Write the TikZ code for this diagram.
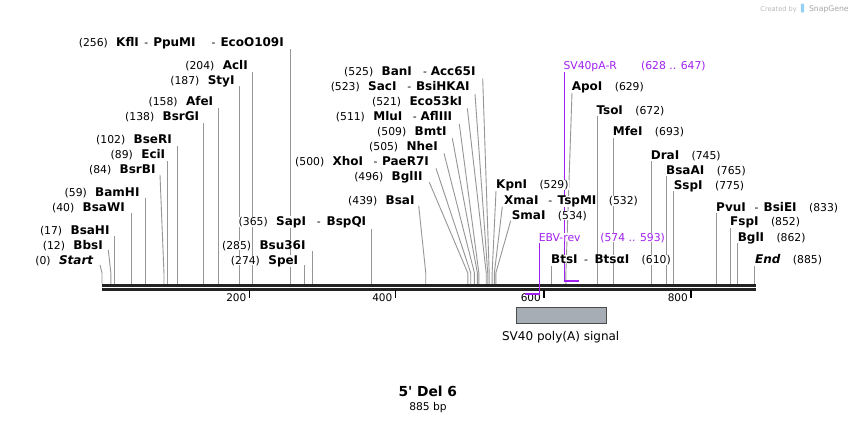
\documentclass[tikz,border=0pt]{standalone}
\usepackage{fontspec}
\setmainfont{DejaVu Sans}[Ligatures=TeXOff]
\definecolor{primer}{RGB}{160,32,240}
\definecolor{sitegray}{RGB}{150,150,150}
\definecolor{mapblack}{RGB}{35,35,35}
\definecolor{featfill}{RGB}{166,173,180}
\definecolor{featdraw}{RGB}{75,75,75}
\definecolor{wmgray}{RGB}{185,185,185}
\definecolor{wmblue}{RGB}{150,208,245}
\pgfdeclarelayer{bg}
\pgfsetlayers{bg,main}
\newcommand\Dash[2]{\hspace{#1pt}{\mdseries\fontsize{10.8}{12}\selectfont -}\hspace{#2pt}}
\tikzset{
  nm/.style={inner sep=0pt, fill=white, font=\fontsize{12}{14}\selectfont\bfseries},
  nb/.style={inner sep=0pt, fill=white, font=\fontsize{10.8}{13}\selectfont},
  pl/.style={inner sep=0pt, fill=white, text=primer, font=\fontsize{10.8}{13}\selectfont},
  siteline/.style={draw=sitegray, line width=0.9pt},
  primerline/.style={draw=primer, line width=1.2pt},
  primerbar/.style={draw=primer, line width=2pt},
  mapline/.style={draw=mapblack},
  tickline/.style={draw=black, line width=1.5pt},
}
\newcommand\LSite[7]{%
  \node[nm,anchor=base east] (n#1) at (#4+0.7,#5) {#3};
  \node[nb,anchor=base east] (b#1) at ([xshift=-8pt]n#1.base west) {(#2)};
  \coordinate (t#1) at ({#6},#7);
  \coordinate (k#1) at ({xs(#2)},273);
  \coordinate (m#1) at ({xs(#2)},284);
  \begin{pgfonlayer}{bg}\draw[siteline] (t#1) -- (k#1) -- (m#1);\end{pgfonlayer}
}
\newcommand\RSite[7]{%
  \node[nm,anchor=base west] (n#1) at (#4-0.7,#5) {#3};
  \node[nb,anchor=base west] (b#1) at ([xshift=12pt]n#1.base east) {(#2)};
  \coordinate (t#1) at ({#6},#7);
  \coordinate (k#1) at ({xs(#2)},273);
  \coordinate (m#1) at ({xs(#2)},284);
  \begin{pgfonlayer}{bg}\draw[siteline] (t#1) -- (k#1) -- (m#1);\end{pgfonlayer}
}
\begin{document}
\begin{tikzpicture}[x=1pt,y=-1pt,declare function={xs(\s)=102+0.7375*\s;}]
\begin{pgfonlayer}{bg}
\fill[white] (0,0) rectangle (858,423);
\end{pgfonlayer}
\useasboundingbox (0,0) rectangle (858,423);

% watermark
\node[inner sep=0pt, anchor=base west, text=wmgray, font=\fontsize{6.6}{8}\selectfont] (wmc) at (760.2,11) {Created by};
\node[fill=wmblue, inner sep=0pt, minimum width=3.2pt, minimum height=9pt, rounded corners=1pt] (wml) at (802.5,8) {};
\node[inner sep=0pt, anchor=base west, text=wmgray!90!black, font=\fontsize{7.7}{9}\selectfont] (wms) at (808.8,11) {SnapGene};

% left-labelled sites
\LSite{256}{256}{KflI\Dash{5.5}{5}PpuMI\Dash{16}{5}EcoO109I}{283.3}{46}{xs(256)}{49}
\LSite{204}{204}{AclI}{247.3}{69.3}{xs(204)}{71.7}
\LSite{187}{187}{StyI}{234}{84.3}{xs(187)}{86}
\LSite{158}{158}{AfeI}{212.7}{105.7}{xs(158)}{108}
\LSite{138}{138}{BsrGI}{198.7}{120.7}{xs(138)}{123}
\LSite{102}{102}{BseRI}{171.3}{143.3}{xs(102)}{146}
\LSite{89}{89}{EciI}{164.7}{158.3}{xs(89)}{161}
\LSite{84}{84}{BsrBI}{155}{173.3}{160}{175}
\LSite{59}{59}{BamHI}{139}{196}{xs(59)}{198.3}
\LSite{40}{40}{BsaWI}{124.3}{211}{xs(40)}{213}
\LSite{17}{17}{BsaHI}{109}{234}{xs(17)}{236}
\LSite{12}{12}{BbsI}{102.3}{249}{108.3}{250}
\LSite{0}{0}{\itshape Start}{92.7}{264}{100}{265}
\LSite{365}{365}{SapI\Dash{10.8}{6}BspQI}{365.7}{225.3}{xs(365)}{229}
\LSite{285}{285}{Bsu36I}{305}{249}{xs(285)}{250.7}
\LSite{274}{274}{SpeI}{297.7}{264}{xs(274)}{265}
\LSite{525}{525}{BanI\Dash{11.2}{3.8}Acc65I}{475}{75.7}{482.7}{78.3}
\LSite{523}{523}{SacI\Dash{10.8}{4.8}BsiHKAI}{469}{90.7}{475}{94}
\LSite{521}{521}{Eco53kI}{461.7}{105.7}{467.3}{108.3}
\LSite{511}{511}{MluI\Dash{10.5}{3.8}AflIII}{451.7}{120.7}{459.3}{124}
\LSite{509}{509}{BmtI}{446}{135.7}{452.3}{138.3}
\LSite{505}{505}{NheI}{437.3}{150.7}{444}{153.3}
\LSite{500}{500}{XhoI\Dash{10.5}{4.5}PaeR7I}{428.3}{165.7}{436}{168.3}
\LSite{496}{496}{BglII}{422}{180.7}{429.3}{182.3}
\LSite{439}{439}{BsaI}{414}{204}{418.7}{205.7}

% right-labelled sites
\RSite{629}{629}{ApoI}{572.3}{90.7}{572}{92.7}
\RSite{672}{672}{TsoI}{597}{114}{xs(672)}{116}
\RSite{693}{693}{MfeI}{613.3}{135.7}{xs(693)}{137.7}
\RSite{745}{745}{DraI}{651.3}{159}{xs(745)}{161}
\RSite{765}{765}{BsaAI}{666.7}{174}{xs(765)}{176}
\RSite{775}{775}{SspI}{674.3}{189}{xs(775)}{191}
\RSite{529}{529}{KpnI}{496.7}{188.3}{496}{191}
\RSite{532}{532}{XmaI\Dash{9.8}{5.5}TspMI}{504.7}{204.3}{502.3}{206.7}
\RSite{534}{534}{SmaI}{512.3}{219}{510.7}{220.7}
\RSite{610}{610}{BtsI\Dash{6.5}{6.5}BtsαI}{551.7}{263.3}{xs(610)}{266}
\RSite{833}{833}{PvuI\Dash{8.8}{5.1}BsiEI}{716.7}{211}{xs(833)}{213.3}
\RSite{852}{852}{FspI}{730.7}{225.7}{xs(852)}{227.7}
\RSite{862}{862}{BglI}{738.3}{241}{xs(862)}{243.3}
\RSite{885}{885}{\itshape End}{755.7}{263.3}{xs(885)}{265.7}

% map
\coordinate (ma) at (102,285.4); \coordinate (mb) at (755.5,285.4);
\coordinate (mc) at (102,289.4); \coordinate (md) at (755.5,289.4);
\draw[mapline, line width=2.8pt] (ma) -- (mb);
\draw[mapline, line width=2.4pt] (mc) -- (md);
\foreach \t/\tx in {200/249.5,400/395.5,600/544,800/691}{
  \coordinate (ta\t) at (\tx,290.4);
  \coordinate (tb\t) at (\tx,298.2);
  \draw[tickline] (ta\t) -- (tb\t);
  \node[inner sep=0pt, anchor=base east, font=\fontsize{10.5}{12}\selectfont] (tl\t) at (\tx-3,301) {\t};
}

% primers
\node[pl, anchor=base west] (pR) at (563.3,69.3) {SV40pA-R};
\node[pl, anchor=base west] (pRn) at (640.9,69.3) {(628 .. 647)};
\coordinate (pR1) at (564.8,71.7);
\coordinate (pR2) at (564.8,280.5);
\coordinate (pR3) at (564.2,280.5);
\coordinate (pR4) at (578.6,280.5);
\begin{pgfonlayer}{bg}
\draw[primerline] (pR1) -- (pR2);
\end{pgfonlayer}
\draw[primerbar] (pR3) -- (pR4);

\node[pl, anchor=base west] (pE) at (538.6,241) {EBV-rev};
\node[pl, anchor=base west] (pEn) at (600.2,241) {(574 .. 593)};
\coordinate (pE1) at (539.4,243);
\coordinate (pE2) at (539.4,294);
\coordinate (pE3) at (540,294);
\coordinate (pE4) at (525,294);
\draw[primerline] (pE1) -- (pE2);
\draw[primerbar] (pE3) -- (pE4);

% feature
\node[draw=featdraw, fill=featfill, line width=1.2pt, inner sep=0pt,
      minimum width=90pt, minimum height=15.8pt] (feat) at (561.5,315.3) {};
\node[inner sep=0pt, anchor=base, font=\fontsize{12}{14}\selectfont] (featl) at (560.7,340) {SV40 poly(A) signal};

% title
\node[inner sep=0pt, anchor=base, font=\fontsize{13.8}{16}\selectfont\bfseries] (title) at (427.8,396.7) {5' Del 6};
\node[inner sep=0pt, anchor=base, font=\fontsize{10.7}{13}\selectfont] (len) at (428,410) {885 bp};
\end{tikzpicture}
\end{document}
